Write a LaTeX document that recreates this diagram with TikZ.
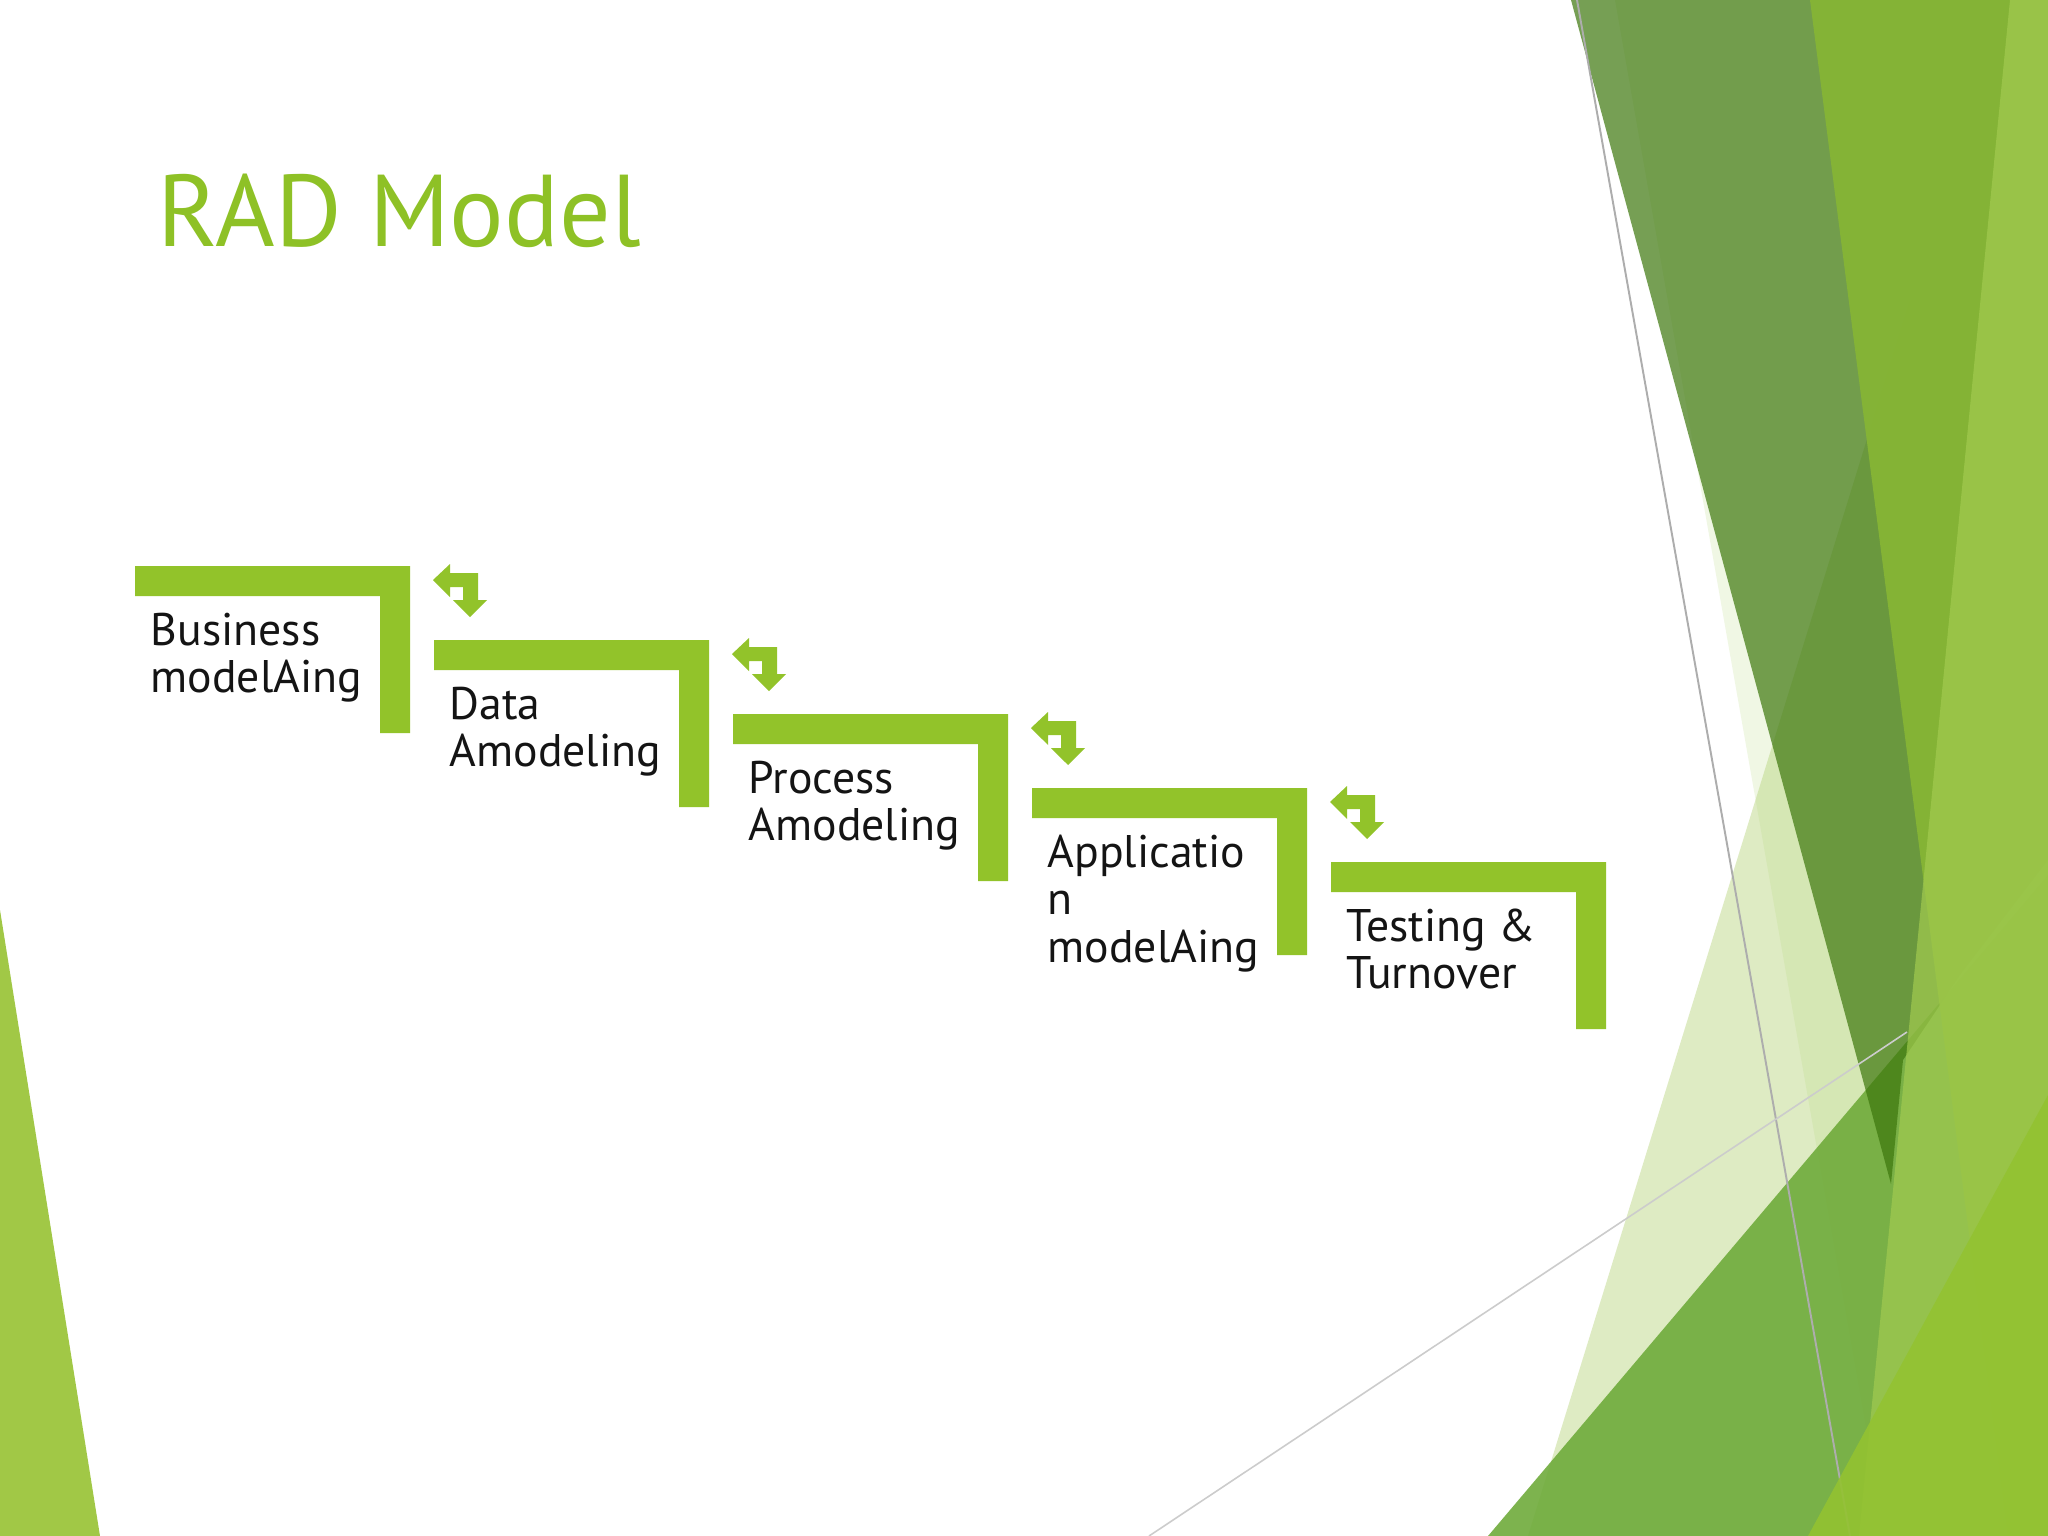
\documentclass[tikz,border=0pt]{standalone}
\usepackage{fontspec}
\setmainfont{PT Sans}
\definecolor{stepgreen}{HTML}{92C32A}
\definecolor{titlegreen}{HTML}{8EC126}
\definecolor{leftgreen}{HTML}{A1C846}
\definecolor{wedgecol}{HTML}{3D770C}
\definecolor{palecol}{HTML}{A1C654}
\definecolor{faintcol}{HTML}{B5D77A}
\definecolor{midcol}{HTML}{6FAB3B}
\definecolor{brightcol}{HTML}{86B535}
\definecolor{lightcol}{HTML}{A2CB50}
\definecolor{yellowcol}{HTML}{93C232}
\tikzset{
  bracketshape/.style={fill=stepgreen, draw=none},
  arrowshape/.style={fill=stepgreen, draw=none},
  steptext/.style={anchor=base west, inner sep=0pt, font=\fontsize{13}{14.5}\selectfont, text=black!92},
  titletext/.style={anchor=base west, inner sep=0pt, font=\fontsize{29}{35}\selectfont, text=titlegreen},
  facet/.style={draw=none},
  thinline/.style={line width=0.55pt},
}
\begin{document}
\begin{tikzpicture}[x=0.01cm,y=-0.01cm]
\useasboundingbox (0,0) rectangle (2048,1536);
\fill[white] (0,0) rectangle (2048,1536);
\begin{scope}
\clip (0,0) rectangle (2048,1536);
% left triangle
\fill[facet, leftgreen] (0,910) -- (100,1536) -- (0,1536) -- cycle;
% pale triangle
\fill[facet, palecol, fill opacity=0.35] (1528,1536) -- (1910,300) -- (2048,300) -- (2048,1536) -- cycle;
% faint band
\fill[facet, faintcol, fill opacity=0.2] (1615,0) -- (2048,0) -- (2048,1536) -- (1885,1536) -- cycle;
% medium green corner triangle
\fill[facet, midcol, fill opacity=0.9] (1488,1536) -- (2048,875) -- (2048,1536) -- cycle;
% dark wedge
\fill[facet, wedgecol, fill opacity=0.7] (1571,0) -- (2048,0) -- (2048,860) -- (1960,975) -- (1903,1060) -- (1891,1184) -- cycle;
% thin grey lines
\draw[thinline, draw=black!32] (1577,0) -- (1850,1536);
\draw[thinline, draw=black!20, line width=0.45pt] (1149,1536) -- (1907,1032);
% bright green band
\fill[facet, brightcol, fill opacity=0.95] (1810,0) -- (2048,0) -- (2048,1536) -- (2008,1536) -- cycle;
% light right wedge
\fill[facet, lightcol, fill opacity=0.7] (2010,0) -- (2048,0) -- (2048,1536) -- (1859,1536) -- cycle;
% yellow green bottom corner
\fill[facet, yellowcol, fill opacity=0.92] (1808,1536) -- (2048,1095) -- (2048,1536) -- cycle;
\end{scope}

% title
\node[titletext] (title) at (157,246) {RAD Model};

% step brackets and arrows
\foreach \k in {0,...,4}{
  \pgfmathsetmacro{\bx}{135+299*\k}
  \pgfmathsetmacro{\by}{566+74*\k}
  \fill[bracketshape] (\bx,\by) -- ++(275,0) -- ++(0,167) -- ++(-30,0) -- ++(0,-137) -- ++(-245,0) -- cycle;
}
\foreach \k in {0,...,3}{
  \pgfmathsetmacro{\ax}{433+299*\k}
  \pgfmathsetmacro{\ay}{580+74*\k}
  \fill[arrowshape] (\ax,\ay) -- ++(17,-16) -- ++(0,9) -- ++(28,0) -- ++(0,27) -- ++(9,0)
     -- ++(-17,17) -- ++(-17,-17) -- ++(10,0) -- ++(0,-13) -- ++(-13,0) -- ++(0,10) -- cycle;
}

% step texts
\node[steptext] (s1a) at (150,645) {Business};
\node[steptext] (s1b) at (150,692.3) {modelAing};
\node[steptext] (s2a) at (449,719) {Data};
\node[steptext] (s2b) at (449,766.3) {Amodeling};
\node[steptext] (s3a) at (748,793) {Process};
\node[steptext] (s3b) at (748,840.3) {Amodeling};
\node[steptext] (s4a) at (1047,867) {Applicatio};
\node[steptext] (s4b) at (1047,914.5) {n};
\node[steptext] (s4c) at (1047,962) {modelAing};
\node[steptext] (s5a) at (1346,941) {Testing \&};
\node[steptext] (s5b) at (1346,988.3) {Turnover};
\end{tikzpicture}
\end{document}
